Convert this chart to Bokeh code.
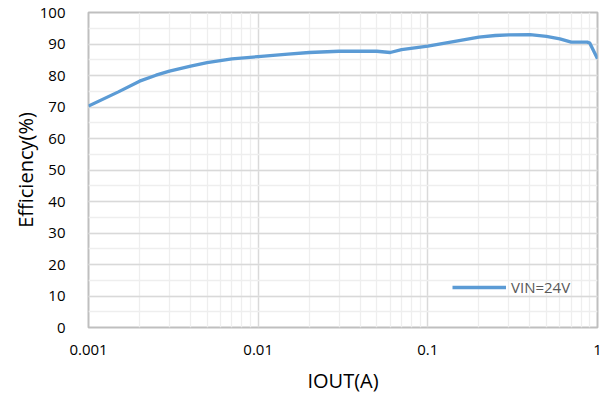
from bokeh.plotting import figure
from bokeh.models import FixedTicker, SingleIntervalTicker, Range1d, Legend, LegendItem
from bokeh.embed import file_html
from bokeh.resources import INLINE

# Data
iout = [0.001, 0.0015, 0.002, 0.0025, 0.003, 0.004, 0.005, 0.007, 0.01, 0.015, 0.02,
        0.03, 0.05, 0.06, 0.07, 0.1, 0.15, 0.2, 0.25, 0.3, 0.4, 0.5, 0.6, 0.7,
        0.87, 0.9, 1.0]
eff_24v = [70.3, 74.8, 78.2, 80.1, 81.4, 83.0, 84.1, 85.3, 86.0, 86.8, 87.3,
           87.7, 87.7, 87.3, 88.2, 89.3, 91.0, 92.2, 92.7, 92.9, 93.0, 92.4, 91.6, 90.6,
           90.6, 90.3, 85.3]
series_name = "VIN=24V"
x_major = [0.001, 0.01, 0.1, 1]
x_labels = ["0.001", "0.01", "0.1", "1"]
x_minor = [m * d for d in [0.001, 0.01, 0.1] for m in range(2, 10)]

FONT = "Open Sans"

p = figure(x_axis_type="log", output_backend="svg", toolbar_location=None,
           frame_width=509, frame_height=315,
           min_border_left=88, min_border_right=6, min_border_top=12, min_border_bottom=56,
           x_range=Range1d(0.001, 1), y_range=Range1d(0, 100))
p.background_fill_color = "white"
p.border_fill_color = "white"
p.outline_line_color = "#bfbfbf"
p.outline_line_width = 2

p.xaxis.ticker = FixedTicker(ticks=x_major, minor_ticks=x_minor)
p.xaxis.major_label_overrides = {t: l for t, l in zip(x_major, x_labels)}
p.yaxis.ticker = SingleIntervalTicker(interval=10, num_minor_ticks=2)

for ax in (p.xaxis, p.yaxis):
    ax.axis_line_color = None
    ax.major_tick_line_color = None
    ax.minor_tick_line_color = None
    ax.major_label_text_font = FONT
    ax.major_label_text_font_size = "15px"
    ax.major_label_text_color = "#000000"
    ax.axis_label_text_font = FONT
    ax.axis_label_text_font_size = "20px"
    ax.axis_label_text_font_style = "normal"
    ax.axis_label_text_color = "#000000"

p.xaxis.axis_label = "IOUT(A)"
p.yaxis.axis_label = "Efficiency(%)"
p.xaxis.major_label_standoff = 11
p.xaxis.axis_label_standoff = 9
p.yaxis.major_label_standoff = 17
p.yaxis.axis_label_standoff = -2

for g in (p.xgrid, p.ygrid):
    g.grid_line_color = "#d9d9d9"
    g.grid_line_width = 1.5
    g.minor_grid_line_color = "#eeeeee"
    g.minor_grid_line_width = 1.3

r = p.line(iout, eff_24v, line_color="#5b9bd5", line_width=3.3, line_join="round")

legend = Legend(items=[LegendItem(label=series_name, renderers=[r])],
                location=(364, 30), padding=0, margin=0,
                glyph_width=54, glyph_height=20, label_height=20, label_standoff=5,
                label_text_font=FONT, label_text_font_size="15px",
                label_text_color="#595959",
                background_fill_alpha=0, border_line_color=None)
p.add_layout(legend)

open("out.html", "w").write(file_html(p, INLINE))
